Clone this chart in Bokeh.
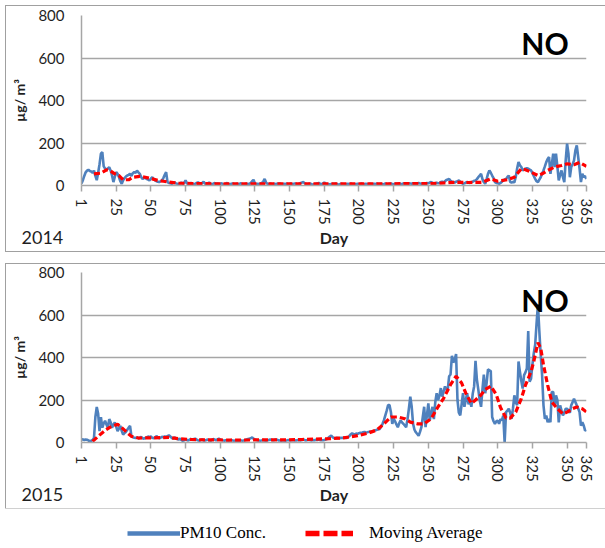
from bokeh.plotting import figure
from bokeh.models import Range1d, FixedTicker, Label, Legend, LegendItem, Spacer
from bokeh.layouts import column, row
from bokeh.embed import file_html
from bokeh.resources import INLINE

# ---------------- data ----------------
days = list(range(1, 366))

pm10_2014 = [
    10, 25, 45, 62, 70, 74, 68, 66, 60, 70,
    45, 25, 60, 100, 150, 157, 90, 80, 74, 80,
    86, 70, 47, 16, 40, 63, 55, 40, 20, 8,
    25, 35, 42, 47, 50, 55, 45, 58, 63, 60,
    70, 62, 55, 40, 31, 35, 39, 30, 28, 24,
    32, 39, 30, 24, 20, 18, 16, 20, 24, 35,
    50, 63, 16, 12, 10, 8, 12, 15, 10, 8,
    6, 10, 14, 9, 12, 24, 10, 6, 8, 12,
    9, 5, 8, 12, 15, 10, 7, 12, 18, 9,
    6, 10, 14, 8, 5, 9, 12, 7, 10, 6,
    8, 11, 6, 5, 9, 12, 7, 6, 8, 10,
    7, 5, 9, 6, 8, 11, 6, 5, 7, 9,
    6, 8, 12, 20, 27, 10, 6, 8, 7, 9,
    12, 18, 31, 15, 8, 6, 9, 7, 5, 8,
    6, 9, 7, 10, 6, 5, 8, 7, 9, 6,
    7, 9, 6, 8, 10, 7, 5, 8, 12, 14,
    16, 10, 7, 6, 8, 9, 6, 5, 7, 8,
    10, 12, 8, 6, 9, 14, 8, 6, 7, 5,
    7, 8, 6, 9, 7, 5, 6, 8, 7, 6,
    5, 7, 8, 6, 9, 7, 6, 5, 7, 8,
    6, 7, 9, 6, 5, 8, 7, 6, 8, 7,
    6, 8, 7, 9, 6, 7, 8, 6, 7, 9,
    7, 6, 8, 10, 7, 6, 9, 8, 7, 10,
    8, 7, 9, 11, 8, 7, 10, 9, 8, 11,
    9, 8, 10, 12, 9, 8, 11, 10, 9, 12,
    10, 14, 16, 12, 9, 11, 13, 10, 12, 16,
    18, 14, 20, 26, 28, 31, 22, 18, 16, 14,
    18, 20, 24, 18, 12, 8, 10, 14, 16, 14,
    12, 16, 18, 22, 24, 30, 39, 46, 55, 30,
    16, 8, 30, 55, 71, 60, 47, 35, 16, 12,
    10, 8, 12, 18, 24, 28, 31, 40, 47, 16,
    14, 16, 15, 40, 80, 110, 95, 87, 71, 75,
    79, 82, 79, 75, 71, 60, 45, 31, 20, 16,
    28, 39, 55, 71, 90, 110, 125, 134, 55, 100,
    150, 87, 150, 90, 24, 50, 71, 40, 16, 118,
    197, 150, 39, 87, 100, 118, 165, 189, 134, 80,
    16, 55, 39, 45, 31,
]

pm10_2015 = [
    13, 15, 12, 14, 13, 10, 5, 8, 12, 21,
    120, 167, 135, 54, 119, 70, 90, 102, 85, 70,
    110, 95, 70, 85, 94, 75, 54, 65, 78, 55,
    37, 45, 50, 60, 70, 78, 29, 25, 22, 21,
    24, 20, 22, 26, 20, 18, 21, 24, 28, 25,
    29, 22, 20, 24, 30, 25, 20, 22, 27, 24,
    29, 26, 30, 34, 28, 22, 18, 24, 20, 16,
    14, 18, 12, 8, 10, 15, 12, 9, 14, 16,
    12, 16, 18, 14, 10, 8, 12, 15, 10, 9,
    12, 14, 10, 8, 12, 16, 14, 10, 15, 18,
    14, 12, 10, 8, 11, 9, 8, 10, 12, 9,
    8, 10, 7, 9, 8, 10, 8, 9, 12, 14,
    16, 18, 20, 24, 18, 14, 12, 10, 9, 8,
    10, 12, 9, 8, 10, 12, 14, 13, 10, 12,
    14, 13, 10, 9, 8, 10, 9, 8, 10, 12,
    11, 10, 12, 11, 9, 10, 12, 11, 10, 12,
    14, 11, 10, 12, 13, 11, 10, 12, 11, 13,
    12, 14, 11, 12, 10, 12, 14, 16, 22, 28,
    32, 25, 21, 20, 22, 21, 20, 22, 21, 23,
    22, 21, 24, 30, 38, 43, 40, 38, 42, 40,
    44, 46, 45, 48, 50, 47, 48, 50, 52, 51,
    53, 55, 58, 60, 62, 64, 75, 88, 105, 128,
    150, 176, 176, 144, 88, 112, 100, 85, 72, 90,
    104, 95, 88, 80, 72, 110, 160, 216, 168, 88,
    60, 48, 40, 32, 50, 72, 120, 168, 72, 130,
    184, 104, 140, 168, 110, 190, 232, 200, 220, 256,
    216, 240, 264, 248, 250, 312, 320, 408, 376, 390,
    416, 200, 140, 128, 180, 232, 168, 200, 232, 180,
    200, 168, 230, 264, 384, 296, 250, 200, 168, 250,
    320, 232, 280, 344, 340, 336, 120, 100, 88, 100,
    103, 88, 110, 104, 127, 0, 143, 150, 159, 140,
    111, 160, 222, 190, 175, 381, 333, 290, 254, 317,
    330, 349, 524, 286, 300, 365, 420, 460, 560, 650,
    524, 413, 317, 175, 111, 127, 95, 110, 95, 238,
    238, 175, 222, 200, 95, 175, 150, 127, 140, 159,
    159, 150, 140, 175, 190, 206, 190, 175, 160, 143,
    79, 95, 80, 56, 60,
]

ma_days_2014 = [10, 15, 19, 22, 25, 28, 31, 35, 38, 43, 47, 52, 56, 60, 64, 71,
                80, 100, 140, 180, 220, 250, 260, 270, 280, 290, 296, 301, 308,
                313, 318, 321, 325, 330, 333, 337, 342, 347, 351, 356, 360, 365]
ma_2014 = [55, 58, 74, 68, 55, 47, 27, 27, 39, 43, 39, 31, 24, 20, 16, 11,
           9, 8, 8, 8, 8, 9, 11, 15, 14, 15, 31, 20, 27,
           39, 79, 74, 63, 47, 55, 71, 87, 94, 102, 98, 108, 90]

ma_days_2015 = [9, 13, 18, 22, 27, 30, 34, 37, 42, 52, 64, 71, 80, 90, 100, 112,
                124, 136, 148, 160, 170, 180, 190, 200, 207, 214, 219, 224, 229,
                234, 238, 243, 248, 253, 258, 262, 267, 271, 275, 278, 282, 285,
                289, 292, 296, 300, 303, 307, 310, 314, 318, 321, 325, 327, 330,
                332, 334, 337, 340, 344, 348, 351, 355, 358, 362, 365]
ma_2015 = [5, 29, 57, 73, 86, 70, 46, 29, 21, 22, 24, 18, 14, 12, 12, 11,
           12, 12, 12, 14, 16, 18, 22, 32, 43, 59, 88, 120, 120,
           112, 96, 88, 88, 112, 168, 208, 272, 312, 280, 232, 184, 200,
           224, 250, 265, 225, 165, 115, 115, 143, 206, 270, 333, 381, 470,
           444, 365, 270, 191, 159, 135, 143, 159, 167, 159, 143]

x_tick_labels = ["1", "25", "50", "75", "100", "125", "150", "175", "200",
                 "225", "250", "275", "300", "325", "350", "365"]
y_ticks = [0, 200, 400, 600, 800]
years = ["2014", "2015"]
x_title = "Day"
y_title = "µg/ m³"
series_names = ["PM10 Conc.", "Moving Average"]
site = "NO"

BLUE = "#4f81bd"
RED = "#ff0000"
GRID = "#a6a6a6"
TXT = "#1f1f1f"
FONT = "Lato"
BORDER = {"outline": "1.5px solid #a0a0a0", "outline-offset": "0px"}

# tick positions: one every 25 categories starting at day 1, plus the last day
tick_pos = [1 + 25 * k for k in range(len(x_tick_labels) - 1)] + [365]

PANEL_W = 599
LEFT, FRAME_W, RIGHT = 75, 505, 19
FOOT_H = 24


def no_frame_align(fig):
    if "frame_align" in fig.properties():
        fig.frame_align = False


def make_panel(year, pm, ma_x, ma_y, top):
    p = figure(frame_width=FRAME_W, frame_height=170,
               min_border_left=LEFT, min_border_right=RIGHT,
               min_border_top=top, min_border_bottom=42,
               x_range=Range1d(1, 365), y_range=Range1d(0, 800),
               output_backend="svg", toolbar_location=None)
    no_frame_align(p)
    p.outline_line_color = None
    p.xgrid.visible = False
    p.ygrid.grid_line_color = GRID
    p.ygrid.grid_line_width = 1.3
    p.ygrid.ticker = FixedTicker(ticks=y_ticks)

    p.yaxis.ticker = FixedTicker(ticks=y_ticks)
    p.xaxis.ticker = FixedTicker(ticks=tick_pos, minor_ticks=[])
    p.xaxis.major_label_overrides = {pos: lab for pos, lab in zip(tick_pos, x_tick_labels)}
    p.xaxis.major_label_orientation = "vertical"

    for ax in (p.xaxis[0], p.yaxis[0]):
        ax.axis_line_color = GRID
        ax.axis_line_width = 1.5
        ax.major_tick_line_color = GRID
        ax.major_tick_line_width = 1.5
        ax.minor_tick_line_color = None
        ax.major_label_text_font = FONT
        ax.major_label_text_font_size = "15px"
        ax.major_label_text_color = TXT
        ax.axis_label_text_font = FONT
        ax.axis_label_text_font_style = "bold"
        ax.axis_label_text_color = TXT

    p.xaxis.major_tick_in = 0
    p.xaxis.major_tick_out = 6
    p.xaxis.major_label_standoff = 7

    p.yaxis.major_tick_in = 0
    p.yaxis.major_tick_out = 0
    p.yaxis.major_label_standoff = 17
    p.yaxis.axis_label = y_title
    p.yaxis.axis_label_text_font_size = "14px"
    p.yaxis.axis_label_standoff = 7

    p.line(days, pm, line_color=BLUE, line_width=2.6)
    p.line(ma_x, ma_y, line_color=RED, line_width=3.2, line_dash="6 3")

    p.add_layout(Label(x=318, y=671, text=site, text_font=FONT,
                       text_font_size="30px", text_font_style="bold",
                       text_color="#000000", text_baseline="middle"))

    # footer strip of the panel: year tag (left) and x-axis title (centred under the frame)
    f = figure(frame_width=PANEL_W, frame_height=FOOT_H, min_border=0,
               x_range=Range1d(0, PANEL_W), y_range=Range1d(0, FOOT_H),
               output_backend="svg", toolbar_location=None)
    no_frame_align(f)
    f.axis.visible = False
    f.grid.visible = False
    f.outline_line_color = None
    f.add_layout(Label(x=15, y=14, text=year, text_font=FONT, text_font_size="18px",
                       text_color=TXT, text_baseline="middle", text_align="left"))
    f.add_layout(Label(x=LEFT + FRAME_W / 2, y=14, text=x_title, text_font=FONT,
                       text_font_size="16px", text_font_style="bold",
                       text_color=TXT, text_baseline="middle", text_align="center"))
    return column(row(p), row(f), styles=BORDER)


panel1 = make_panel(years[0], pm10_2014, ma_days_2014, ma_2014, 9)
panel2 = make_panel(years[1], pm10_2015, ma_days_2015, ma_2015, 8)

# legend strip: legend samples reuse the 2015 series, kept outside the visible range
p3 = figure(frame_width=605, frame_height=40, min_border=0,
            x_range=Range1d(-20, -10), y_range=Range1d(-20, -10),
            output_backend="svg", toolbar_location=None)
no_frame_align(p3)
p3.axis.visible = False
p3.grid.visible = False
p3.outline_line_color = None
r_pm = p3.line(days, pm10_2015, line_color=BLUE, line_width=4.5)
r_ma = p3.line(ma_days_2015, ma_2015, line_color=RED, line_width=5.5, line_dash="14 4")

for items, loc, gw, st in (([LegendItem(label=series_names[0], renderers=[r_pm])], (127, 5), 53, 0),
                           ([LegendItem(label=series_names[1], renderers=[r_ma])], (305, 5), 48, 16)):
    leg = Legend(items=items, location=loc, glyph_width=gw, glyph_height=18,
                 label_height=18, label_standoff=st, padding=0, margin=0,
                 border_line_alpha=0, background_fill_alpha=0,
                 label_text_font="Liberation Serif", label_text_font_size="17px",
                 label_text_color="#000000")
    p3.add_layout(leg)

layout = column(Spacer(width=1, height=6),
                row(Spacer(width=6, height=1), panel1),
                Spacer(width=1, height=13),
                row(Spacer(width=6, height=1), panel2),
                p3)

open("out.html", "w").write(file_html(layout, INLINE))
